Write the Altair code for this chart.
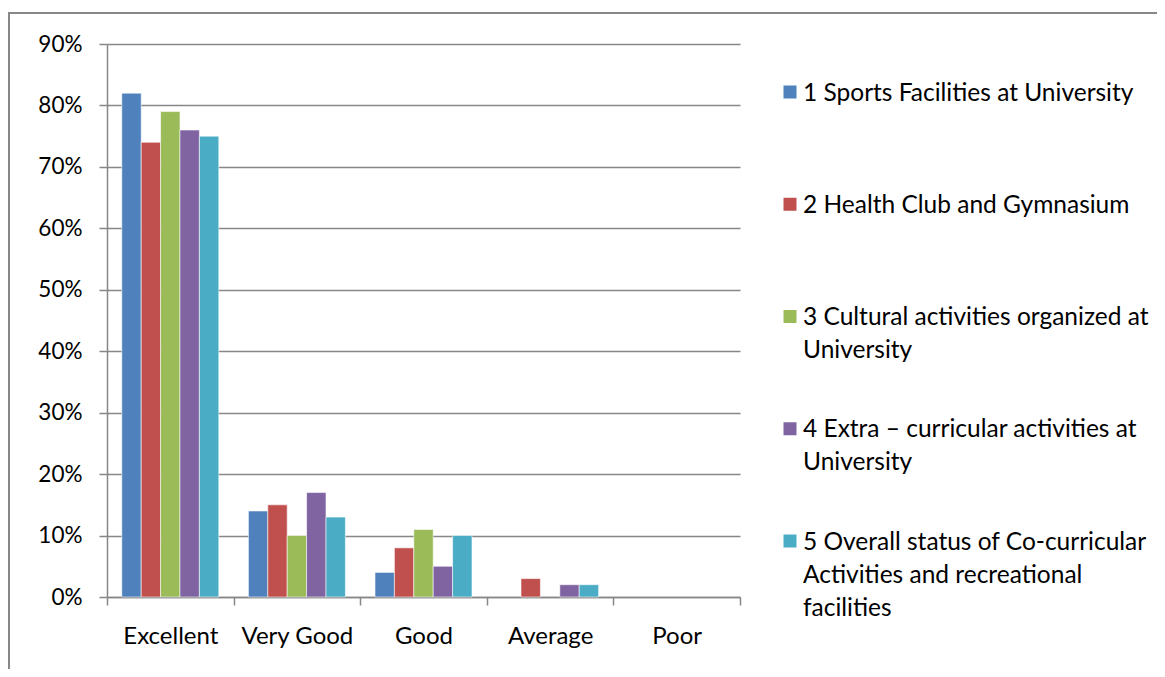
import altair as alt
import pandas as pd

categories = ["Excellent", "Very Good", "Good", "Average", "Poor"]
series = [
    "1 Sports Facilities at University",
    "2 Health Club and Gymnasium",
    "3 Cultural activities organized at University",
    "4 Extra – curricular activities at University",
    "5 Overall status of Co-curricular Activities and recreational facilities",
]
legend_lines = [
    "1 Sports Facilities at University",
    "2 Health Club and Gymnasium",
    "3 Cultural activities organized at|University",
    "4 Extra – curricular activities at|University",
    "5 Overall status of Co-curricular|Activities and recreational|facilities",
]
colors = ["#4F81BD", "#C0504D", "#9BBB59", "#8064A2", "#4BACC6"]

s1 = [0.82, 0.14, 0.04, 0.00, 0.00]
s2 = [0.74, 0.15, 0.08, 0.03, 0.00]
s3 = [0.79, 0.10, 0.11, 0.00, 0.00]
s4 = [0.76, 0.17, 0.05, 0.02, 0.00]
s5 = [0.75, 0.13, 0.10, 0.02, 0.00]
y_ticks = [0.0, 0.1, 0.2, 0.3, 0.4, 0.5, 0.6, 0.7, 0.8, 0.9]

rows = []
for name, vals in zip(series, [s1, s2, s3, s4, s5]):
    for cat, v in zip(categories, vals):
        if v > 0:
            rows.append({"category": cat, "series": name, "value": v})
df = pd.DataFrame(rows)

leg = pd.DataFrame({"series": series, "label": legend_lines, "idx": list(range(len(series)))})

FONT = "Lato"
GRID = "#878787"

color_scale = alt.Scale(domain=series, range=colors)

bars = alt.Chart(df).mark_bar(stroke="white", strokeWidth=0.8, strokeOpacity=0.7).encode(
    x=alt.X("category:N", sort=categories, title=None,
            scale=alt.Scale(domain=categories, paddingInner=0, paddingOuter=0),
            axis=alt.Axis(tickBand="extent", tickSize=8, tickColor=GRID, tickWidth=1.5,
                          domainColor=GRID, domainWidth=1.5, labelAngle=0,
                          labelFont=FONT, labelFontSize=24, labelColor="black",
                          labelPadding=19, grid=False)),
    xOffset=alt.XOffset("series:N", sort=series,
                        scale=alt.Scale(domain=series, paddingInner=0, paddingOuter=0.763)),
    y=alt.Y("value:Q", title=None, scale=alt.Scale(domain=[0, 0.9], nice=False),
            axis=alt.Axis(values=y_ticks, format=".0%", tickSize=8, tickColor=GRID, tickWidth=1.5,
                          domainColor=GRID, domainWidth=1.5, gridColor=GRID, gridWidth=1.5,
                          labelFont=FONT, labelFontSize=22.5, labelColor="black",
                          labelPadding=17)),
    color=alt.Color("series:N", scale=color_scale, legend=None),
)

border = alt.Chart(pd.DataFrame({"a": [0]})).mark_rect(
    fillOpacity=0, stroke=GRID, strokeWidth=2
).encode(x=alt.value(-98), x2=alt.value(1100), y=alt.value(-31), y2=alt.value(700))

leg_y = alt.Y("idx:Q", axis=None, scale=alt.Scale(domain=[0, 4], range=[48, 497]))

leg_sq = alt.Chart(leg).mark_square(size=169, opacity=1).encode(
    x=alt.value(683), y=leg_y,
    color=alt.Color("series:N", scale=color_scale, legend=None),
)
leg_txt = alt.Chart(leg).mark_text(
    align="left", baseline="top", dy=-10.5, lineBreak="|", lineHeight=33,
    font=FONT, fontSize=24.5, color="black"
).encode(x=alt.value(696), y=leg_y, text="label:N")

chart = alt.layer(border, bars, leg_sq, leg_txt).resolve_scale(y="independent").properties(
    width=633, height=553,
    autosize=alt.AutoSizeParams(type="none"),
    padding={"left": 99, "top": 36, "right": 417, "bottom": 72},
).configure_view(stroke=None)

chart.save("out.html", embed_options={"renderer": "svg", "actions": False})
